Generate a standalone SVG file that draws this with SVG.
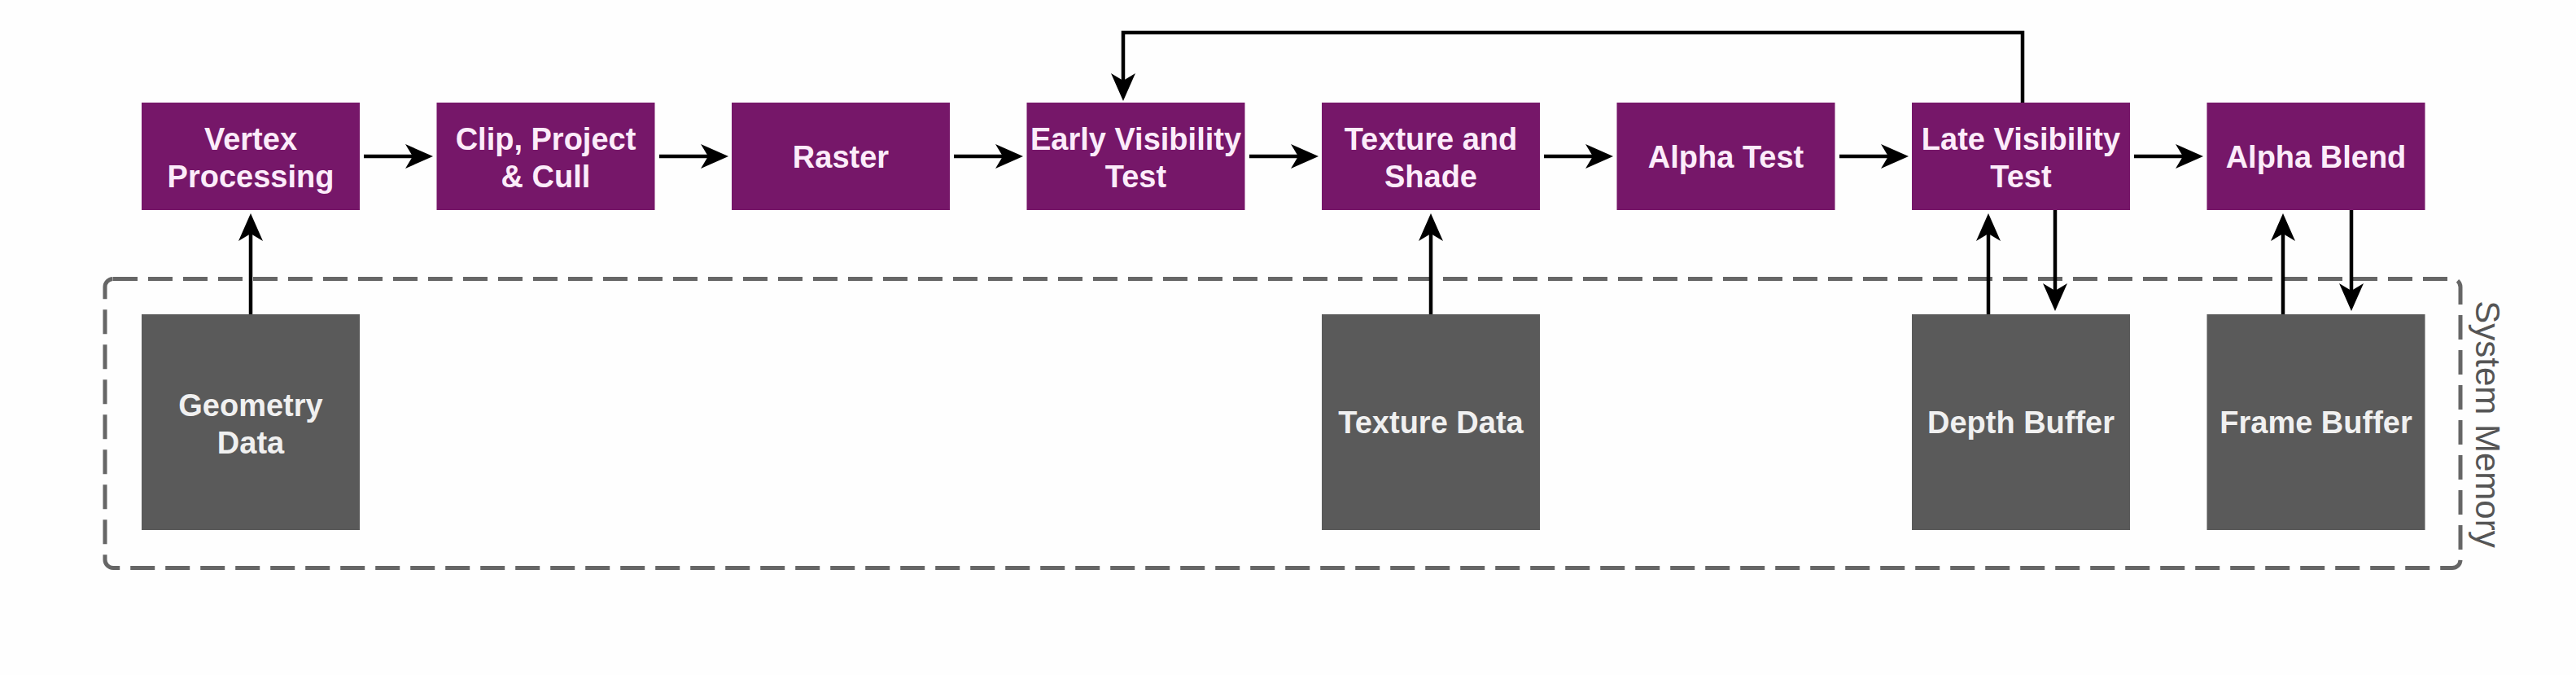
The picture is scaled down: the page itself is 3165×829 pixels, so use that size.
<svg xmlns="http://www.w3.org/2000/svg" width="3165" height="829" viewBox="0 0 3165 829">
  <style>
    .stage { fill: #761769; }
    .mem { fill: #5a5a5a; }
    .lbl { font-family: "Liberation Sans", Arial, sans-serif; font-weight: bold; font-size: 38px; text-anchor: middle; }
    .stage-t { fill: #fcecfa; }
    .mem-t { fill: #f0f0f0; }
    .conn { fill: none; stroke: #000; stroke-width: 4.5; }
    .border { fill: none; stroke: #666; stroke-width: 5; stroke-dasharray: 30 13; }
    .side { font-family: "Liberation Sans", Arial, sans-serif; font-size: 42px; fill: #555; text-anchor: middle; }
  </style>
  <defs>
    <marker id="ah" markerUnits="userSpaceOnUse" markerWidth="34" markerHeight="30" viewBox="0 0 34 30" refX="24" refY="15" orient="auto">
      <path d="M0,0 L34,15 L0,30 L9,15 Z" fill="#000"/>
    </marker>
  </defs>
  <rect x="0" y="0" width="3165" height="829" fill="#fefefe"/>

  <g id="system-memory">
    <rect class="border" x="129" y="342.5" width="2894" height="355" rx="10" ry="10"/>
    <text class="side" transform="translate(3042,521) rotate(90)">System Memory</text>
  </g>

  <g id="connectors">
    <line class="conn" x1="447" y1="192" x2="522" y2="192" marker-end="url(#ah)"/>
    <line class="conn" x1="810" y1="192" x2="885" y2="192" marker-end="url(#ah)"/>
    <line class="conn" x1="1172" y1="192" x2="1247" y2="192" marker-end="url(#ah)"/>
    <line class="conn" x1="1535" y1="192" x2="1610" y2="192" marker-end="url(#ah)"/>
    <line class="conn" x1="1897" y1="192" x2="1972" y2="192" marker-end="url(#ah)"/>
    <line class="conn" x1="2260" y1="192" x2="2335" y2="192" marker-end="url(#ah)"/>
    <line class="conn" x1="2622" y1="192" x2="2697" y2="192" marker-end="url(#ah)"/>
    <path class="conn" d="M2485,126 V40 H1380 V114" marker-end="url(#ah)"/>
    <line class="conn" x1="308" y1="386" x2="308" y2="272" marker-end="url(#ah)"/>
    <line class="conn" x1="1758" y1="386" x2="1758" y2="272" marker-end="url(#ah)"/>
    <line class="conn" x1="2443" y1="386" x2="2443" y2="272" marker-end="url(#ah)"/>
    <line class="conn" x1="2525" y1="258" x2="2525" y2="372" marker-end="url(#ah)"/>
    <line class="conn" x1="2805" y1="386" x2="2805" y2="272" marker-end="url(#ah)"/>
    <line class="conn" x1="2889" y1="258" x2="2889" y2="372" marker-end="url(#ah)"/>
  </g>

  <g id="vertex-processing">
    <rect class="stage" x="174" y="126" width="268" height="132"/>
    <text class="lbl stage-t" x="308" y="184">Vertex</text>
    <text class="lbl stage-t" x="308" y="230">Processing</text>
  </g>
  <g id="clip-project-cull">
    <rect class="stage" x="536.5" y="126" width="268" height="132"/>
    <text class="lbl stage-t" x="670.5" y="184">Clip, Project</text>
    <text class="lbl stage-t" x="670.5" y="230">&amp; Cull</text>
  </g>
  <g id="raster">
    <rect class="stage" x="899" y="126" width="268" height="132"/>
    <text class="lbl stage-t" x="1033" y="205.5">Raster</text>
  </g>
  <g id="early-visibility-test">
    <rect class="stage" x="1261.5" y="126" width="268" height="132"/>
    <text class="lbl stage-t" x="1395.5" y="184">Early Visibility</text>
    <text class="lbl stage-t" x="1395.5" y="230">Test</text>
  </g>
  <g id="texture-and-shade">
    <rect class="stage" x="1624" y="126" width="268" height="132"/>
    <text class="lbl stage-t" x="1758" y="184">Texture and</text>
    <text class="lbl stage-t" x="1758" y="230">Shade</text>
  </g>
  <g id="alpha-test">
    <rect class="stage" x="1986.5" y="126" width="268" height="132"/>
    <text class="lbl stage-t" x="2120.5" y="205.5">Alpha Test</text>
  </g>
  <g id="late-visibility-test">
    <rect class="stage" x="2349" y="126" width="268" height="132"/>
    <text class="lbl stage-t" x="2483" y="184">Late Visibility</text>
    <text class="lbl stage-t" x="2483" y="230">Test</text>
  </g>
  <g id="alpha-blend">
    <rect class="stage" x="2711.5" y="126" width="268" height="132"/>
    <text class="lbl stage-t" x="2845.5" y="205.5">Alpha Blend</text>
  </g>

  <g id="geometry-data">
    <rect class="mem" x="174" y="386" width="268" height="265"/>
    <text class="lbl mem-t" x="308" y="510.5">Geometry</text>
    <text class="lbl mem-t" x="308" y="556.5">Data</text>
  </g>
  <g id="texture-data">
    <rect class="mem" x="1624" y="386" width="268" height="265"/>
    <text class="lbl mem-t" x="1758" y="532">Texture Data</text>
  </g>
  <g id="depth-buffer">
    <rect class="mem" x="2349" y="386" width="268" height="265"/>
    <text class="lbl mem-t" x="2483" y="532">Depth Buffer</text>
  </g>
  <g id="frame-buffer">
    <rect class="mem" x="2711.5" y="386" width="268" height="265"/>
    <text class="lbl mem-t" x="2845.5" y="532">Frame Buffer</text>
  </g>
</svg>
